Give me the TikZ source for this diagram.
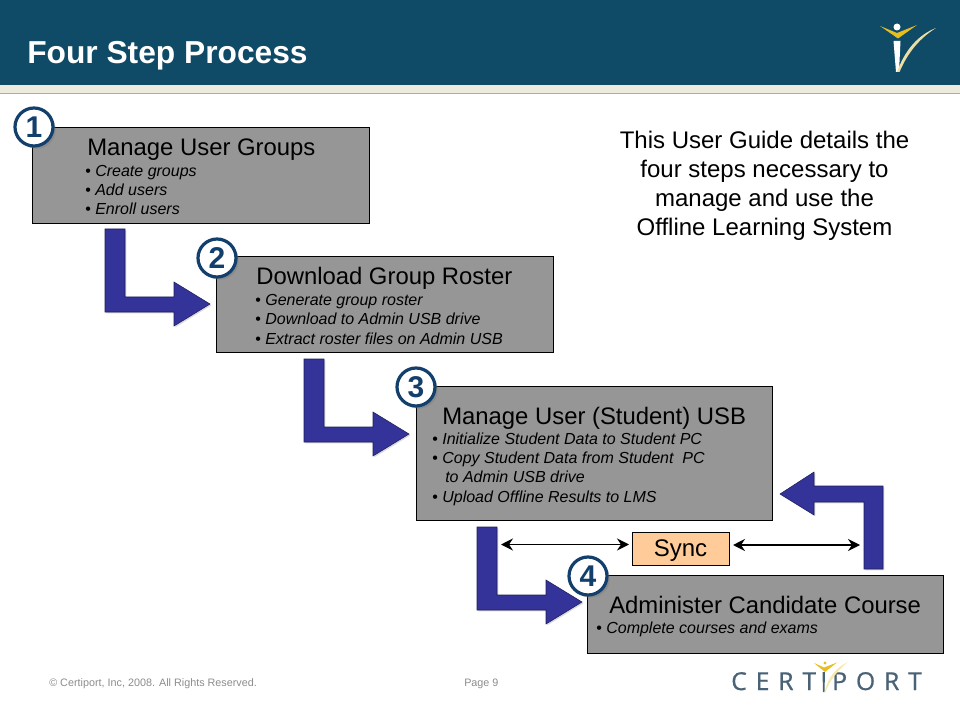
\documentclass[tikz,border=0pt]{standalone}
\usepackage{fontspec}
\setmainfont{Liberation Sans}
\newfontfamily\logofont[LetterSpace=36,FakeBold=0.8]{Open Sans}
\usetikzlibrary{positioning,arrows.meta,shadows}
\definecolor{headblue}{HTML}{0F4A66}
\definecolor{stripcream}{HTML}{EDEBDD}
\definecolor{boxgray}{HTML}{969696}
\definecolor{arrowblue}{HTML}{333399}
\definecolor{numblue}{HTML}{123F6B}
\definecolor{syncorange}{HTML}{FFCC99}
\definecolor{logoslate}{HTML}{4A6276}
\definecolor{logogold}{HTML}{E8BE1E}
\tikzset{
  stepbox/.style={draw=black,fill=boxgray,line width=0.6pt,inner sep=0pt},
  stephead/.style={anchor=base west,font=\fontsize{17.9}{18}\selectfont,inner sep=0pt},
  stepitem/.style={anchor=base west,font=\fontsize{12}{12}\selectfont\itshape,inner sep=0pt},
  stepnum/.style={circle,draw=numblue,fill=white,line width=2.4pt,minimum size=28.5pt,inner sep=0pt,
    text=numblue,font=\fontsize{22.5}{22.5}\selectfont\bfseries,
    drop shadow={shadow xshift=2pt,shadow yshift=-2pt,opacity=0.5}},
  guideline/.style={anchor=base,font=\fontsize{18}{18}\selectfont,inner sep=0pt},
  footline/.style={anchor=base west,text=black!45,font=\fontsize{8.1}{8.1}\selectfont,inner sep=0pt},
  bent/.style={fill=arrowblue,draw=arrowblue!60!black,line width=0.4pt,
    drop shadow={shadow xshift=1pt,shadow yshift=-1pt,opacity=0.3}},
  syncline/.style={{Stealth[length=9pt,width=9pt,inset=3pt]}-{Stealth[length=9pt,width=9pt,inset=3pt]},line width=1.1pt}
}
\newcommand{\bentarrow}[2]{%
  \path[bent,shift={(#1,#2)}] (105,229) -- (125,229) -- (125,297) -- (174,297) -- (174,282)
    -- (210,304) -- (174,326) -- (174,312) -- (105,312) -- cycle;}
\begin{document}
\begin{tikzpicture}[x=0.75pt,y=-0.75pt]
\useasboundingbox (0,0) rectangle (960,720);

% header
\fill[headblue] (0,0) rectangle (960,85);
\fill[stripcream] (0,85) rectangle (960,93);
\draw[black!25!stripcream!85!green,line width=0.5pt] (0,93) -- (960,93);
\node[anchor=base west,text=white,inner sep=0pt,font=\fontsize{23.8}{24}\selectfont\bfseries] (title) at (27,64) {Four Step Process};

% small logo
\fill[logogold] (880,26) -- (897,33) -- (917,25) -- (898,38.5) -- cycle;
\fill[white] (897,27) circle (3.5);
\fill[white] (893.5,41) -- (900.5,41) -- (899,72) -- (896,72) -- cycle;
\fill[stripcream!70!logogold] (897,72) .. controls (905,50) and (918,35) .. (936,28) .. controls (920,38) and (908,52) .. (899.5,72) -- cycle;

% arrows
\bentarrow{0}{0}
\bentarrow{199}{130}
\bentarrow{372}{298}
\path[bent] (883,569) -- (864,569) -- (864,502) -- (814,502) -- (814,515) -- (780,494)
  -- (814,472) -- (814,486) -- (883,486) -- cycle;

% boxes
\node[stepbox,minimum width=252.75pt,minimum height=72pt] (box1) at (200.5,175) {};
\node[stepbox,minimum width=252.75pt,minimum height=72pt] (box2) at (384.5,304) {};
\node[stepbox,minimum width=267pt,minimum height=100.5pt] (box3) at (594,453) {};
\node[stepbox,minimum width=267pt,minimum height=58.5pt] (box4) at (765,614) {};

\node[stepnum] (num1) at (34,127) {1};
\node[stepnum] (num2) at (217,258) {2};
\node[stepnum] (num3) at (416,387) {3};
\node[stepnum] (num4) at (588,576) {4};

% box texts
\node[stephead] (head1) at (87,156) {Manage User Groups};
\node[stepitem] (item11) at (85,176.5) {{\upshape •} Create groups};
\node[stepitem] (item12) at (85,196) {{\upshape •} Add users};
\node[stepitem] (item13) at (85,215) {{\upshape •} Enroll users};

\node[stephead] (head2) at (256,285) {Download Group Roster};
\node[stepitem] (item21) at (255,305.5) {{\upshape •} Generate group roster};
\node[stepitem] (item22) at (255,325) {{\upshape •} Download to Admin USB drive};
\node[stepitem] (item23) at (255,344.5) {{\upshape •} Extract roster files on Admin USB};

\node[stephead] (head3) at (442,424.5) {Manage User (Student) USB};
\node[stepitem] (item31) at (432,444) {{\upshape •} Initialize Student Data to Student PC};
\node[stepitem] (item32) at (432,463) {{\upshape •} Copy Student Data from Student\ \ PC};
\node[stepitem] (item33) at (445,482.5) {to Admin USB drive};
\node[stepitem] (item34) at (432,502) {{\upshape •} Upload Offline Results to LMS};

\node[stephead] (head4) at (609,613) {Administer Candidate Course};
\node[stepitem] (item41) at (596,633) {{\upshape •} Complete courses and exams};

% guide text
\node[guideline] (guide1) at (764.5,149) {This User Guide details the};
\node[guideline] (guide2) at (764.5,178) {four steps necessary to};
\node[guideline] (guide3) at (764.5,207) {manage and use the};
\node[guideline] (guide4) at (764.5,236) {Offline Learning System};

% sync
\node[draw=black,fill=syncorange,line width=0.6pt,minimum width=72.75pt,minimum height=24.75pt,inner sep=0pt] (sync) at (680.5,548.5) {};
\node[anchor=base,inner sep=0pt,font=\fontsize{18}{18}\selectfont] (synctext) at (680.5,556) {Sync};
\coordinate (syncL) at (501,544.5);
\coordinate (syncLe) at (629,544.5);
\coordinate (syncR) at (733,545);
\coordinate (syncRe) at (860,545);
\draw[syncline] (syncL) -- (syncLe);
\draw[syncline] (syncR) -- (syncRe);

% footer
\node[footline] (copy) at (49,686) {© Certiport, Inc, 2008. All Rights Reserved.};
\node[footline] (page) at (464,686) {Page 9};

% big logo
\node[anchor=base west,inner sep=0pt,text=logoslate,font=\fontsize{18.5}{18.5}\selectfont\logofont] (logoa) at (731,690) {CERT};
\node[anchor=base west,inner sep=0pt,text=logoslate,font=\fontsize{18.5}{18.5}\selectfont\logofont] (logob) at (832,690) {PORT};
\fill[logogold] (814,663) -- (824,667.5) -- (837,662.5) -- (825,672) -- cycle;
\fill[logogold] (825,663) circle (1.7);
\fill[logoslate] (822.5,672) -- (825,672) -- (824.5,692) -- (823,692) -- cycle;
\fill[logogold!35] (824.5,692) .. controls (828,678) and (835,668) .. (848,662) .. controls (838,670) and (830,680) .. (825.5,692) -- cycle;
\end{tikzpicture}
\end{document}
